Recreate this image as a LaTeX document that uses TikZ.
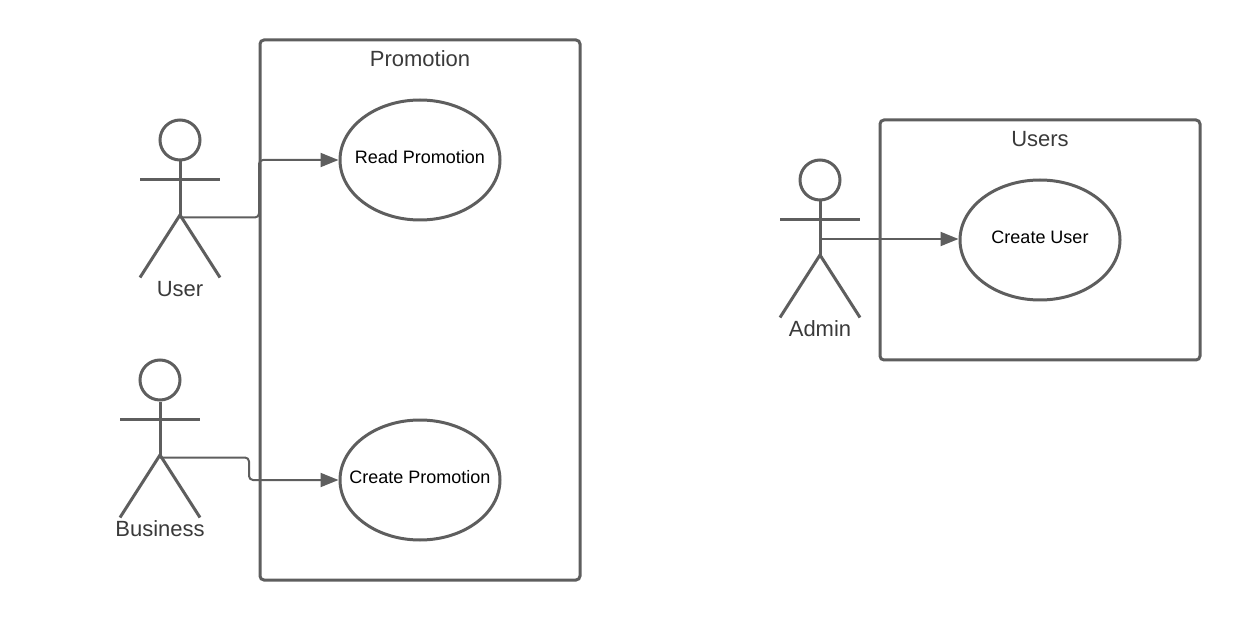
\documentclass[tikz,border=0pt]{standalone}
\usepackage{fontspec}
\setmainfont{Liberation Sans}
\usetikzlibrary{shapes.geometric,arrows.meta}
\definecolor{ln}{HTML}{5E5E5E}
\definecolor{tx}{HTML}{3A3A3A}
\tikzset{
  x=1pt,y=-1pt,
  boxnode/.style={draw=ln,line width=3pt,rounded corners=4pt,minimum width=320pt,inner sep=0pt},
  usecase/.style={draw=ln,line width=3pt,ellipse,minimum width=160pt,minimum height=120pt,inner sep=0pt},
  casetext/.style={font=\fontsize{18}{20}\selectfont,text=black,inner sep=0pt},
  title/.style={font=\fontsize{22}{24}\selectfont,text=tx,inner sep=0pt},
  head/.style={draw=ln,line width=3pt,circle,minimum size=40pt,inner sep=0pt},
  body/.style={draw=ln,line width=3pt},
  link/.style={draw=ln,line width=2pt,rounded corners=4pt,-{Triangle[length=18pt,width=14pt]}},
}
\begin{document}
\begin{tikzpicture}
\useasboundingbox (0,0) rectangle (1240,620);
% Boxes
\node[boxnode,minimum height=540pt] (promo) at (420,310) {};
\node[boxnode,minimum height=240pt] (users) at (1040,240) {};
\node[title] (promoT) at (420,58.5) {Promotion};
\node[title] (usersT) at (1040,139) {Users};
% Use cases
\node[usecase] (read) at (420,160) {};
\node[usecase] (create) at (420,480) {};
\node[usecase] (cuser) at (1040,240) {};
\node[casetext] (readT) at (420,157) {Read Promotion};
\node[casetext] (createT) at (420,477) {Create Promotion};
\node[casetext] (cuserT) at (1040,237) {Create User};
% Actor User
\node[head] (uh) at (180,140) {};
\coordinate (uhip) at (180,215);
\coordinate (ula) at (140,179.5); \coordinate (ura) at (220,179.5);
\coordinate (ull) at (140,277.5); \coordinate (url) at (220,277.5);
\draw[body] (uh.south) -- (uhip);
\draw[body] (ula) -- (ura);
\draw[body] (ull) -- (uhip) -- (url);
\node[title] (uT) at (180,289) {User};
% Actor Business
\node[head] (bh) at (160,380) {};
\coordinate (bhip) at (160,455);
\coordinate (bla) at (120,419.5); \coordinate (bra) at (200,419.5);
\coordinate (bll) at (120,517.5); \coordinate (brl) at (200,517.5);
\draw[body] (bh.south) -- (bhip);
\draw[body] (bla) -- (bra);
\draw[body] (bll) -- (bhip) -- (brl);
\node[title] (bT) at (160,528.5) {Business};
% Actor Admin
\node[head] (ah) at (820,180) {};
\coordinate (ahip) at (820,255);
\coordinate (ala) at (780,219.5); \coordinate (ara) at (860,219.5);
\coordinate (all) at (780,317.5); \coordinate (arl) at (860,317.5);
\draw[body] (ah.south) -- (ahip);
\draw[body] (ala) -- (ara);
\draw[body] (all) -- (ahip) -- (arl);
\node[title] (aT) at (820,328.5) {Admin};
% Connectors
\coordinate (ustart) at (180,217.5);
\coordinate (bstart) at (160,457.5);
\coordinate (astart) at (820,239);
\draw[link] (ustart) -| (259,160) -- (read.west);
\draw[link] (bstart) -| (249,480) -- (create.west);
\draw[link] (astart) -- (astart -| cuser.west);
\end{tikzpicture}
\end{document}
